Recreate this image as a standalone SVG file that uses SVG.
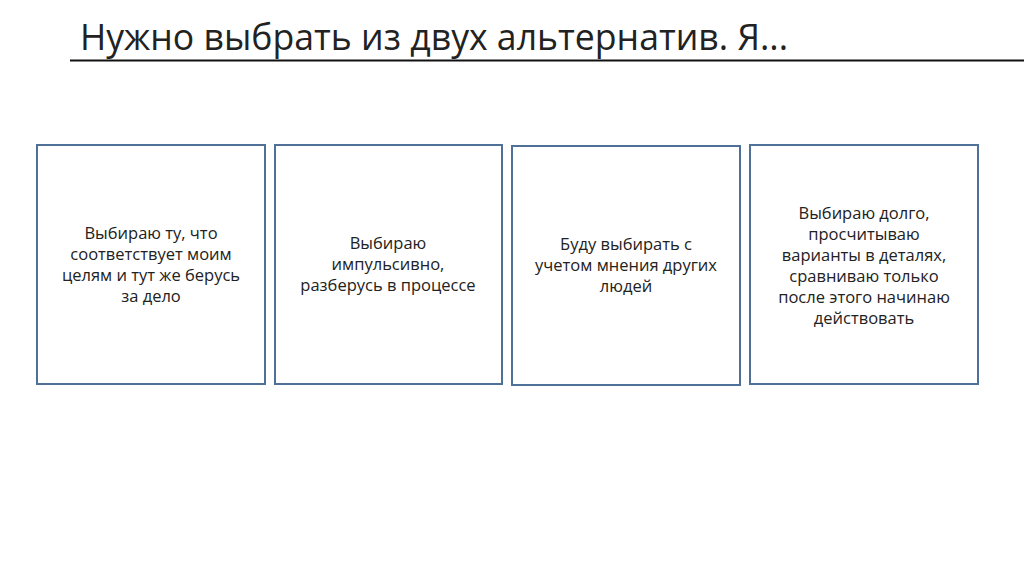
<svg xmlns="http://www.w3.org/2000/svg" width="1024" height="574" viewBox="0 0 1024 574">
<style>
.b{fill:#fff;stroke:#4f7198;stroke-width:2}
.t{font-family:"Open Sans","Liberation Sans",sans-serif;font-size:16.5px;fill:#222;text-anchor:middle}
.h{font-family:"Liberation Sans Narrow","Open Sans","Liberation Sans",sans-serif;font-size:36px;fill:#222}
</style>
<rect width="1024" height="574" fill="#fff"/>
<text class="h" x="80" y="50" textLength="708" lengthAdjust="spacingAndGlyphs">Нужно выбрать из двух альтернатив. Я...</text>
<line x1="70" y1="60.5" x2="1024" y2="60.5" stroke="#111" stroke-width="2"/>
<g id="n1"><rect class="b" x="37" y="145" width="228" height="239"/>
<text class="t" x="151" y="239">Выбираю ту, что</text><text class="t" x="151" y="260">соответствует моим</text><text class="t" x="151" y="281">целям и тут же берусь</text><text class="t" x="151" y="302">за дело</text></g>
<g id="n2"><rect class="b" x="275" y="145" width="227" height="239"/>
<text class="t" x="388" y="249">Выбираю</text><text class="t" x="388" y="270">импульсивно,</text><text class="t" x="388" y="291">разберусь в процессе</text></g>
<g id="n3"><rect class="b" x="512" y="146" width="228" height="239"/>
<text class="t" x="626" y="250">Буду выбирать с</text><text class="t" x="626" y="271">учетом мнения других</text><text class="t" x="626" y="292">людей</text></g>
<g id="n4"><rect class="b" x="750" y="145" width="228" height="239"/>
<text class="t" x="864" y="219">Выбираю долго,</text><text class="t" x="864" y="240">просчитываю</text><text class="t" x="864" y="261">варианты в деталях,</text><text class="t" x="864" y="282">сравниваю только</text><text class="t" x="864" y="303">после этого начинаю</text><text class="t" x="864" y="324">действовать</text></g>
<g id="connectors"/>
</svg>
